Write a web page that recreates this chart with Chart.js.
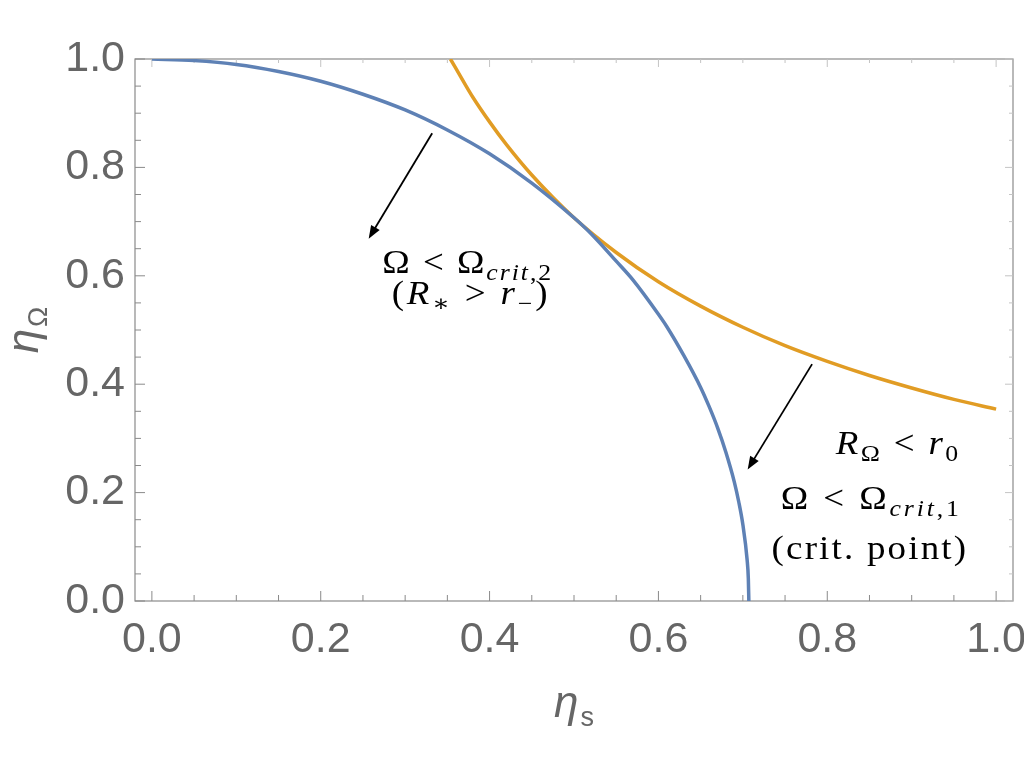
<!DOCTYPE html>
<html><head><meta charset="utf-8">
<script src="https://cdn.jsdelivr.net/npm/chart.js@4/dist/chart.umd.min.js"></script>
<style>html,body{margin:0;padding:0;background:#fff}canvas{display:block}</style>
</head><body>
<canvas id="c" width="1024" height="768"></canvas>
<script>
// ---- data ----
const blueX = [0, 0.05, 0.1, 0.15, 0.2, 0.25, 0.3, 0.35, 0.4, 0.45, 0.5, 0.52, 0.55, 0.57, 0.6, 0.61, 0.63, 0.65, 0.66, 0.67, 0.68, 0.69, 0.695, 0.70, 0.705, 0.7065, 0.7071];
const blueY = [1.000, 0.997, 0.990, 0.977, 0.959, 0.935, 0.906, 0.869, 0.825, 0.771, 0.707, 0.678, 0.627, 0.592, 0.529, 0.506, 0.453, 0.394, 0.359, 0.320, 0.274, 0.219, 0.184, 0.141, 0.077, 0.041, 0.0];
const orangeX = [0.3536, 0.37, 0.38, 0.4, 0.42, 0.45, 0.5, 0.55, 0.6, 0.65, 0.7, 0.75, 0.8, 0.85, 0.9, 0.95, 1.0];
const orangeY = [1.000, 0.956, 0.930, 0.884, 0.842, 0.786, 0.707, 0.643, 0.589, 0.544, 0.505, 0.471, 0.442, 0.416, 0.393, 0.372, 0.354];

const xMajorTicks = [0, 0.2, 0.4, 0.6, 0.8, 1.0];
const xTickLabels = ['0.0', '0.2', '0.4', '0.6', '0.8', '1.0'];
const yMajorTicks = [0, 0.2, 0.4, 0.6, 0.8, 1.0];
const yTickLabels = ['0.0', '0.2', '0.4', '0.6', '0.8', '1.0'];
const minorTicks = [0.05, 0.1, 0.15, 0.25, 0.3, 0.35, 0.45, 0.5, 0.55, 0.65, 0.7, 0.75, 0.85, 0.9, 0.95];

const xTitle = ['η', 's'];
const yTitle = ['η', 'Ω'];

// arrows: [x0, y0, x1(tip), y1(tip)] in data units
const arrows = [
  [0.332, 0.863, 0.2568, 0.6685],
  [0.782, 0.437, 0.7057, 0.2426]
];
// annotation lines: left/right x (data), baseline y (data), runs [text, style]
const notes = [
  { x0: 0.273, x1: 0.473, y: 0.6056, runs: [['Ω', 'r'], [' < ', 'r'], ['Ω', 'r'], ['crit', 'is'], [',2', 'rs']] },
  { x0: 0.284, x1: 0.4686, y: 0.548, runs: [['(', 'r'], ['R', 'i'], ['∗', 'rs'], [' > ', 'r'], ['r', 'i'], ['−', 'rs'], [')', 'r']] },
  { x0: 0.810, x1: 0.955, y: 0.272, runs: [['R', 'i'], ['Ω', 'rs'], [' < ', 'r'], ['r', 'i'], ['0', 'rs']] },
  { x0: 0.745, x1: 0.956, y: 0.170, runs: [['Ω', 'r'], [' < ', 'r'], ['Ω', 'r'], ['crit', 'is'], [',1', 'rs']] },
  { x0: 0.734, x1: 0.9645, y: 0.077, runs: [['(crit. point)', 'r']] }
];

// ---- drawing helpers ----
const SERIF = '"Liberation Serif", "DejaVu Serif", serif';
const SANS = '"Liberation Sans", Arial, sans-serif';
const NOTE_SIZE = 33;

function runFont(style) {
  const sub = style.length === 2 && style[1] === 's';
  const ital = style[0] === 'i';
  const size = sub ? Math.round(NOTE_SIZE * 0.7) : NOTE_SIZE;
  return { font: (ital ? 'italic ' : '') + size + 'px ' + SERIF, dy: sub ? NOTE_SIZE * 0.22 : 0 };
}

const decor = {
  id: 'decor',
  beforeDatasetsDraw(chart) {
    const { ctx, chartArea: a, scales: { x, y } } = chart;
    ctx.save();
    ctx.strokeStyle = '#8a8a8a';
    ctx.lineWidth = 1.2;
    ctx.strokeRect(a.left, a.top, a.right - a.left, a.bottom - a.top);
    const tick = (px, len, col, horiz, base, dir) => {
      ctx.strokeStyle = col;
      ctx.beginPath();
      if (horiz) { ctx.moveTo(px, base); ctx.lineTo(px, base + dir * len); }
      else { ctx.moveTo(base, px); ctx.lineTo(base + dir * len, px); }
      ctx.stroke();
    };
    ctx.lineWidth = 1;
    xMajorTicks.forEach(v => { const p = x.getPixelForValue(v); tick(p, 10, '#8a8a8a', true, a.bottom, -1); tick(p, 8, '#c4c4c4', true, a.top, 1); });
    minorTicks.forEach(v => { const p = x.getPixelForValue(v); tick(p, 6, '#8a8a8a', true, a.bottom, -1); tick(p, 4, '#c4c4c4', true, a.top, 1); });
    yMajorTicks.forEach(v => { const p = y.getPixelForValue(v); tick(p, 10, '#8a8a8a', false, a.left, 1); tick(p, 8, '#c4c4c4', false, a.right, -1); });
    minorTicks.forEach(v => { const p = y.getPixelForValue(v); tick(p, 6, '#8a8a8a', false, a.left, 1); tick(p, 4, '#c4c4c4', false, a.right, -1); });
    ctx.restore();
  },
  afterDraw(chart) {
    const { ctx, chartArea: a, scales: { x, y } } = chart;
    ctx.save();
    ctx.fillStyle = '#666666';
    ctx.textBaseline = 'alphabetic';
    const drawTitle = (parts) => {
      ctx.font = 'italic 44px ' + SANS;
      const w1 = ctx.measureText(parts[0]).width;
      ctx.font = '27px ' + SANS;
      const w2 = ctx.measureText(parts[1]).width;
      const tot = w1 + w2 + 2;
      ctx.font = 'italic 44px ' + SANS;
      ctx.fillText(parts[0], -tot / 2, 0);
      ctx.font = '27px ' + SANS;
      ctx.fillText(parts[1], -tot / 2 + w1 + 2, 9);
    };
    ctx.save();
    ctx.translate((a.left + a.right) / 2, 717);
    drawTitle(xTitle);
    ctx.restore();
    ctx.save();
    ctx.translate(38, (a.top + a.bottom) / 2);
    ctx.rotate(-Math.PI / 2);
    drawTitle(yTitle);
    ctx.restore();

    // arrows
    ctx.strokeStyle = '#000';
    ctx.fillStyle = '#000';
    ctx.lineWidth = 1.8;
    arrows.forEach(([x0, y0, x1, y1]) => {
      const px0 = x.getPixelForValue(x0), py0 = y.getPixelForValue(y0);
      const px1 = x.getPixelForValue(x1), py1 = y.getPixelForValue(y1);
      const ang = Math.atan2(py1 - py0, px1 - px0);
      const hl = 13, hw = 5;
      const bx = px1 - hl * Math.cos(ang), by = py1 - hl * Math.sin(ang);
      ctx.beginPath(); ctx.moveTo(px0, py0); ctx.lineTo(bx + 2 * Math.cos(ang), by + 2 * Math.sin(ang)); ctx.stroke();
      ctx.beginPath();
      ctx.moveTo(px1, py1);
      ctx.lineTo(bx + hw * Math.sin(ang), by - hw * Math.cos(ang));
      ctx.lineTo(bx - hw * Math.sin(ang), by + hw * Math.cos(ang));
      ctx.closePath(); ctx.fill();
    });

    // annotation text: mild horizontal stretch + letter spacing to the measured extent
    ctx.fillStyle = '#000';
    const hasLS = ('letterSpacing' in ctx);
    notes.forEach(n => {
      const px0 = x.getPixelForValue(n.x0), px1 = x.getPixelForValue(n.x1), py = y.getPixelForValue(n.y);
      let tot = 0, nch = 0;
      if (hasLS) ctx.letterSpacing = '0px';
      n.runs.forEach(([t, s]) => { ctx.font = runFont(s).font; tot += ctx.measureText(t).width; nch += [...t].length; });
      const target = px1 - px0;
      let sc = Math.min(target / tot, 1.12), ls = 0;
      if (hasLS) ls = Math.max(0, (target / sc - tot) / Math.max(1, nch - 1)); else sc = target / tot;
      ctx.save();
      ctx.translate(px0, py);
      ctx.scale(sc, 1);
      if (hasLS) ctx.letterSpacing = ls.toFixed(2) + 'px';
      let cx = 0;
      n.runs.forEach(([t, s]) => {
        const f = runFont(s);
        ctx.font = f.font;
        ctx.fillText(t, cx, f.dy);
        cx += ctx.measureText(t).width;
      });
      ctx.restore();
    });
    ctx.restore();
  }
};

const toPts = (xs, ys) => xs.map((v, i) => ({ x: v, y: ys[i] }));

new Chart(document.getElementById('c'), {
  type: 'scatter',
  data: {
    datasets: [
      { data: toPts(blueX, blueY), borderColor: '#5E81B5', backgroundColor: '#5E81B5', borderWidth: 3.5, pointRadius: 0, showLine: true, fill: false, cubicInterpolationMode: 'monotone' },
      { data: toPts(orangeX, orangeY), borderColor: '#E19C24', backgroundColor: '#E19C24', borderWidth: 3.5, pointRadius: 0, showLine: true, fill: false, cubicInterpolationMode: 'monotone' }
    ]
  },
  options: {
    responsive: false,
    animation: false,
    devicePixelRatio: 1,
    layout: { padding: { left: 0, top: 59, right: 11, bottom: 0 } },
    plugins: { legend: { display: false }, tooltip: { enabled: false } },
    scales: {
      x: {
        type: 'linear', min: -0.02, max: 1.02, bounds: 'data',
        afterBuildTicks: s => { s.ticks = xMajorTicks.map(v => ({ value: v })); },
        afterFit: s => { s.height = 167; s.paddingLeft = 0; s.paddingRight = 0; },
        grid: { display: false, drawTicks: false },
        border: { display: false },
        ticks: { callback: (v, i) => xTickLabels[i], font: { family: SANS, size: 43 }, color: '#666666', padding: 13, maxRotation: 0, autoSkip: false }
      },
      y: {
        type: 'linear', min: 0, max: 1, bounds: 'data',
        afterBuildTicks: s => { s.ticks = yMajorTicks.map(v => ({ value: v })); },
        afterFit: s => { s.width = 135; s.paddingTop = 0; s.paddingBottom = 0; },
        grid: { display: false, drawTicks: false },
        border: { display: false },
        ticks: { callback: (v, i) => yTickLabels[i], font: { family: SANS, size: 43 }, color: '#666666', padding: 10, autoSkip: false }
      }
    }
  },
  plugins: [decor]
});
</script>
</body></html>
